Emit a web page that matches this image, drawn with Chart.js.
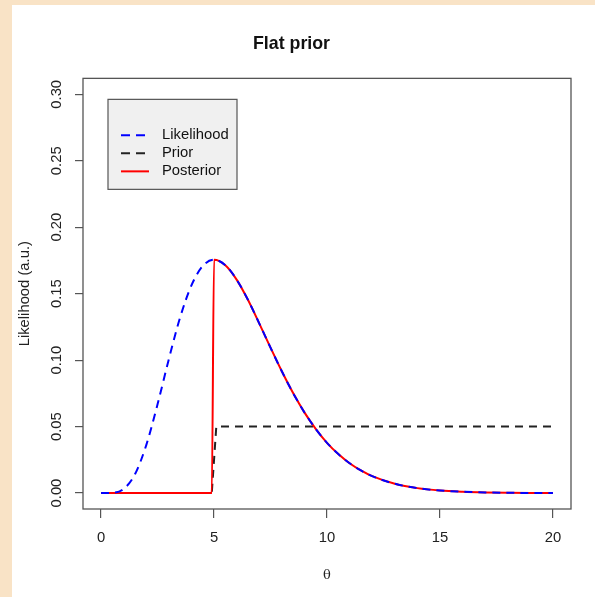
<!DOCTYPE html>
<html>
<head>
<meta charset="utf-8">
<script src="https://cdn.jsdelivr.net/npm/chart.js@4.4.0/dist/chart.umd.min.js"></script>
<style>
html, body { margin: 0; padding: 0; }
body { width: 595px; height: 597px; background: #f9e3c6; position: relative; overflow: hidden; }
#wrap { position: absolute; left: 12px; top: 5px; width: 583px; height: 592px; background: #fff; }
</style>
</head>
<body>
<div id="wrap"><canvas id="flatPrior"></canvas></div>
<script>
// values
var thetaLik = [0, 0.5, 1, 1.5, 2, 2.5, 3, 3.5, 4, 4.5, 5, 5.5, 6, 6.5, 7, 7.5, 8, 8.5, 9, 9.5, 10,
    10.5, 11, 11.5, 12, 13, 14, 15, 16, 17, 18, 19, 20];
var likelihood = [0, 0.0002, 0.0031, 0.0141, 0.0361, 0.0668, 0.1008, 0.1322, 0.1563, 0.1708, 0.1755,
    0.1714, 0.1606, 0.1454, 0.1277, 0.1094, 0.0916, 0.0752, 0.0607, 0.0483, 0.0378,
    0.0293, 0.0224, 0.0170, 0.0127, 0.0070, 0.0037, 0.0019, 0.0010, 0.0005, 0.0002, 0.0001, 0.0001];

var thetaPrior = [0, 4.9, 5.1, 20];
var prior = [0, 0, 0.05, 0.05];

var thetaPost = [0, 4.9, 5, 5.5, 6, 6.5, 7, 7.5, 8, 8.5, 9, 9.5, 10,
    10.5, 11, 11.5, 12, 13, 14, 15, 16, 17, 18, 19, 20];
var posterior = [0, 0, 0.1755, 0.1714, 0.1606, 0.1454, 0.1277, 0.1094, 0.0916, 0.0752, 0.0607, 0.0483, 0.0378,
    0.0293, 0.0224, 0.0170, 0.0127, 0.0070, 0.0037, 0.0019, 0.0010, 0.0005, 0.0002, 0.0001, 0.0001];

var xTicks = [0, 5, 10, 15, 20];
var yTicks = [0, 0.05, 0.10, 0.15, 0.20, 0.25, 0.30];

var FONT = "'Liberation Sans', Arial, Helvetica, sans-serif";

function pts(xs, ys) {
    return xs.map(function (x, i) { return { x: x, y: ys[i] }; });
}

// box, rotated y labels, legend (R style)
var rStyle = {
    id: 'rStyle',
    afterDraw: function (chart) {
        var ctx = chart.ctx;
        var a = chart.chartArea;
        var ys = chart.scales.y;
        ctx.save();
        ctx.strokeStyle = '#555';
        ctx.lineWidth = 1.3;
        ctx.strokeRect(a.left, a.top, a.right - a.left, a.bottom - a.top);

        ctx.fillStyle = '#222';
        ctx.font = '14.8px ' + FONT;
        ctx.textAlign = 'center';
        ctx.textBaseline = 'middle';
        yTicks.forEach(function (v) {
            ctx.save();
            ctx.translate(a.left - 26, ys.getPixelForValue(v));
            ctx.rotate(-Math.PI / 2);
            ctx.fillText(v.toFixed(2), 0, 0);
            ctx.restore();
        });

        // legend
        var bx = a.left + 25, by = a.top + 21, bw = 129, bh = 90;
        ctx.fillStyle = '#f0f0f0';
        ctx.fillRect(bx, by, bw, bh);
        ctx.strokeStyle = '#555';
        ctx.lineWidth = 1.2;
        ctx.strokeRect(bx, by, bw, bh);
        chart.data.datasets.forEach(function (ds, row) {
            var yy = by + 36 + row * 18;
            var dashed = !!ds.borderDash;
            ctx.beginPath();
            ctx.setLineDash(dashed ? [9, 6] : []);
            ctx.strokeStyle = ds.borderColor;
            ctx.lineWidth = 2;
            ctx.moveTo(bx + 13, yy);
            ctx.lineTo(bx + (dashed ? 37 : 41), yy);
            ctx.stroke();
            ctx.setLineDash([]);
            ctx.fillStyle = '#111';
            ctx.textAlign = 'left';
            ctx.fillText(ds.label, bx + 54, yy);
        });
        ctx.restore();
    }
};

var ctx = document.getElementById('flatPrior').getContext('2d');
var myChart = new Chart(ctx, {
    type: 'line',
    data: {
        datasets: [{
            label: 'Likelihood',
            data: pts(thetaLik, likelihood),
            borderColor: '#0000ff',
            borderWidth: 2,
            borderDash: [8, 6],
            cubicInterpolationMode: 'monotone',
            pointRadius: 0,
            order: 0
        }, {
            label: 'Prior',
            data: pts(thetaPrior, prior),
            borderColor: '#222222',
            borderWidth: 2,
            borderDash: [8, 6],
            pointRadius: 0,
            order: 2
        }, {
            label: 'Posterior',
            data: pts(thetaPost, posterior),
            borderColor: '#ff0000',
            borderWidth: 2,
            cubicInterpolationMode: 'monotone',
            pointRadius: 0,
            order: 1
        }]
    },
    options: {
        responsive: true,
        maintainAspectRatio: false,
        animation: false,
        layout: { padding: { left: 0, right: 24, top: 0, bottom: 0 } },
        plugins: {
            legend: { display: false },
            tooltip: { enabled: false },
            title: {
                display: true,
                text: 'Flat prior',
                color: '#111',
                font: { family: FONT, size: 17.8, weight: 'bold' },
                padding: { top: 28, bottom: 24 }
            }
        },
        scales: {
            x: {
                type: 'linear',
                min: -0.8,
                max: 20.8,
                afterBuildTicks: function (s) { s.ticks = xTicks.map(function (v) { return { value: v }; }); },
                afterFit: function (s) { s.height = 88; },
                border: { display: false },
                grid: { drawOnChartArea: false, drawTicks: true, tickLength: 9, color: '#555', lineWidth: 1.2 },
                ticks: { color: '#222', font: { family: FONT, size: 14.8 }, padding: 11, maxRotation: 0, autoSkip: false },
                title: {
                    display: true,
                    text: 'θ',
                    color: '#222',
                    font: { family: "'DejaVu Serif', serif", size: 13 },
                    padding: { top: 0, bottom: 14 }
                }
            },
            y: {
                type: 'linear',
                min: -0.012,
                max: 0.312,
                afterBuildTicks: function (s) { s.ticks = yTicks.map(function (v) { return { value: v }; }); },
                afterFit: function (s) { s.width = 71; },
                border: { display: false },
                grid: { drawOnChartArea: false, drawTicks: true, tickLength: 8, color: '#555', lineWidth: 1.2 },
                ticks: { display: false },
                title: {
                    display: true,
                    text: 'Likelihood (a.u.)',
                    color: '#222',
                    font: { family: FONT, size: 14.8 },
                    padding: { top: 4, bottom: 0 }
                }
            }
        }
    },
    plugins: [rStyle]
});
</script>
</body>
</html>
